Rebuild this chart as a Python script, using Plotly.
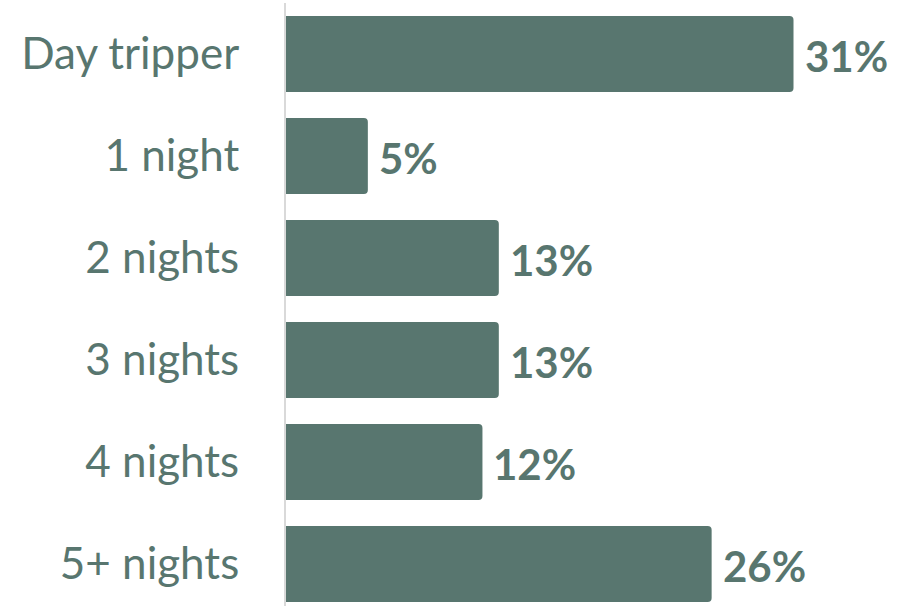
import plotly.graph_objects as go

categories = ["Day tripper", "1 night", "2 nights", "3 nights", "4 nights", "5+ nights"]
shares = [31, 5, 13, 13, 12, 26]

bar_color = "#58766f"
positions = list(range(len(categories)))

fig = go.Figure(
    go.Bar(
        x=shares,
        y=positions,
        orientation="h",
        marker=dict(color=bar_color, line=dict(width=0)),
        width=0.745,
        hoverinfo="skip",
    )
)

# value labels just past the end of each bar
for pos, val in zip(positions, shares):
    fig.add_annotation(
        x=val, y=pos, xref="x", yref="y",
        text=f"<b>{val}%</b>", showarrow=False,
        xanchor="left", yanchor="middle", xshift=9, yshift=-2,
        font=dict(family="Lato", size=42, color=bar_color),
    )

fig.update_layout(
    width=904, height=606,
    margin=dict(l=286, r=0, t=3, b=0),
    paper_bgcolor="white", plot_bgcolor="white",
    barcornerradius=4,
    showlegend=False,
    xaxis=dict(range=[0, 37.75], visible=False, fixedrange=True),
    yaxis=dict(
        range=[5.412, -0.5],
        tickmode="array", tickvals=positions, ticktext=categories,
        showgrid=False, zeroline=False,
        showline=True, linecolor="#d9d9d9", linewidth=2,
        ticks="", ticklabelstandoff=36,
        tickfont=dict(family="Lato", size=44, color=bar_color),
        fixedrange=True,
    ),
)

fig.write_html("out.html")
